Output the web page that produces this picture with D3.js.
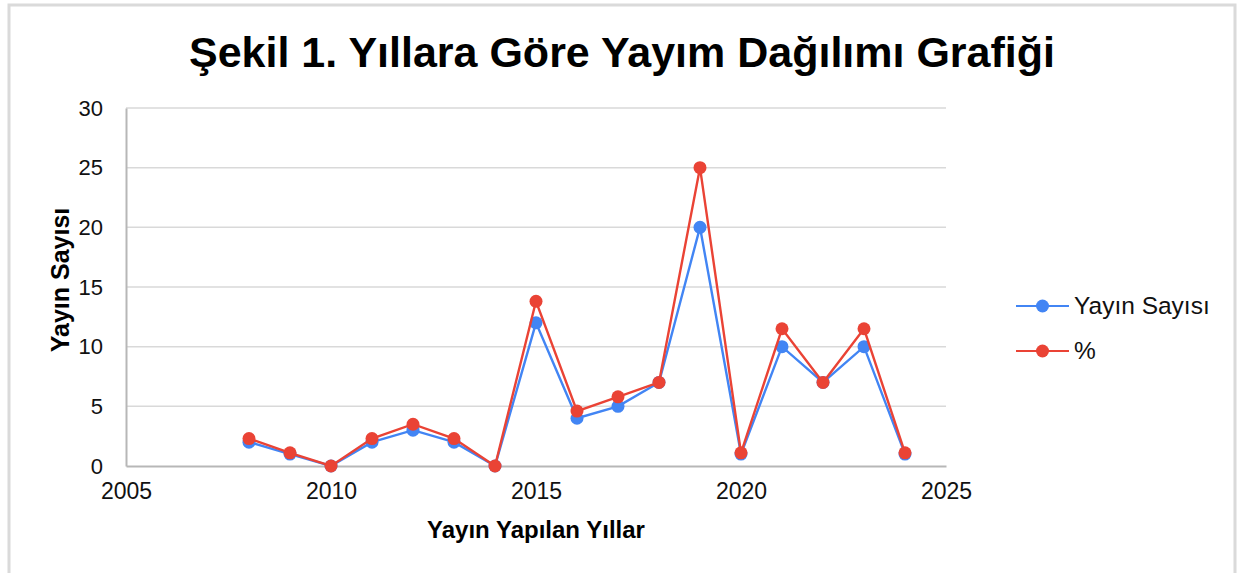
<!DOCTYPE html>
<html>
<head>
<meta charset="utf-8">
<script src="https://cdn.jsdelivr.net/npm/d3@7"></script>
<style>
  body { margin: 0; background: #fff; }
  svg { display: block; font-family: "Liberation Sans", Arial, sans-serif; }
</style>
</head>
<body>
<script>
// data
var years = [2008, 2009, 2010, 2011, 2012, 2013, 2014, 2015, 2016, 2017, 2018, 2019, 2020, 2021, 2022, 2023, 2024]
var yayinSayisi = [2, 1, 0, 2, 3, 2, 0, 12, 4, 5, 7, 20, 1, 10, 7, 10, 1]
var yuzde = [2.3, 1.1, 0, 2.3, 3.5, 2.3, 0, 13.8, 4.6, 5.8, 7, 25, 1.1, 11.5, 7, 11.5, 1.1]
var xTicks = [2005, 2010, 2015, 2020, 2025]
var yTicks = [0, 5, 10, 15, 20, 25, 30]
var seriesNames = ["Yayın Sayısı", "%"]
var seriesColors = ["#4285f4", "#ea4335"]

var width = 1241, height = 573
var margin = {top: 108, right: 295, bottom: 107, left: 126}

var svg = d3.select("body").append("svg")
    .attr("width", width)
    .attr("height", height)

// outer frame
svg.append("path")
    .attr("d", "M9," + height + " V5 H1235 V" + height)
    .attr("fill", "none")
    .attr("stroke", "#dadada")
    .attr("stroke-width", 3)

svg.append("text")
    .attr("x", 622)
    .attr("y", 67)
    .attr("text-anchor", "middle")
    .attr("font-size", 43)
    .attr("font-weight", "bold")
    .attr("fill", "#000")
    .text("Şekil 1. Yıllara Göre Yayım Dağılımı Grafiği")

var x = d3.scaleLinear().domain([2005, 2025]).range([margin.left, width - margin.right])
var y = d3.scaleLinear().domain([0, 30]).range([height - margin.bottom, margin.top])

// gridlines
svg.append("g").selectAll("line").data(yTicks.slice(1)).enter()
    .append("line")
    .attr("x1", x(2005)).attr("x2", x(2025))
    .attr("y1", function(d) { return y(d) }).attr("y2", function(d) { return y(d) })
    .attr("stroke", "#d9d9d9")
    .attr("stroke-width", 1.5)

// axes
var xAxis = d3.axisBottom(x).tickValues(xTicks).tickFormat(d3.format("d")).tickSize(0).tickPadding(17)
var yAxis = d3.axisLeft(y).tickValues(yTicks).tickSize(0).tickPadding(23)

var gx = svg.append("g").attr("transform", "translate(0," + y(0) + ")").call(xAxis)
var gy = svg.append("g").attr("transform", "translate(" + x(2005) + ",0)").call(yAxis)
gx.select(".domain").attr("stroke", "#b7b7b7").attr("stroke-width", 2)
gy.select(".domain").attr("stroke", "#b7b7b7").attr("stroke-width", 2)
gy.selectAll(".tick text").attr("font-size", 22)
gx.selectAll(".tick text").attr("font-size", 23)
svg.selectAll(".tick text").attr("fill", "#111").attr("font-family", "Liberation Sans, Arial, sans-serif")

svg.append("text")
    .attr("x", 536)
    .attr("y", 538)
    .attr("text-anchor", "middle")
    .attr("font-size", 24)
    .attr("font-weight", "bold")
    .text("Yayın Yapılan Yıllar")

svg.append("text")
    .attr("transform", "translate(69,280) rotate(-90)")
    .attr("text-anchor", "middle")
    .attr("font-size", 25)
    .attr("font-weight", "bold")
    .text("Yayın Sayısı")

var line = d3.line()
    .x(function(d, i) { return x(years[i]) })
    .y(function(d) { return y(d) })

var allSeries = [yayinSayisi, yuzde]
allSeries.forEach(function(data, s) {
    svg.append("path")
        .attr("d", line(data))
        .attr("fill", "none")
        .attr("stroke", seriesColors[s])
        .attr("stroke-width", 2.4)
    svg.append("g").selectAll("circle").data(data).enter()
        .append("circle")
        .attr("cx", function(d, i) { return x(years[i]) })
        .attr("cy", function(d) { return y(d) })
        .attr("r", 6.5)
        .attr("fill", seriesColors[s])
})

// legend
var legend = svg.append("g").attr("transform", "translate(1016,306)")
seriesNames.forEach(function(name, i) {
    var g = legend.append("g").attr("transform", "translate(0," + (i * 45) + ")")
    g.append("line").attr("x1", 0).attr("x2", 53).attr("stroke", seriesColors[i]).attr("stroke-width", 2)
    g.append("circle").attr("cx", 26.5).attr("r", 6.5).attr("fill", seriesColors[i])
    g.append("text").attr("x", 58).attr("y", 8).attr("font-size", 24.5).attr("fill", "#111").text(name)
})
</script>
</body>
</html>
